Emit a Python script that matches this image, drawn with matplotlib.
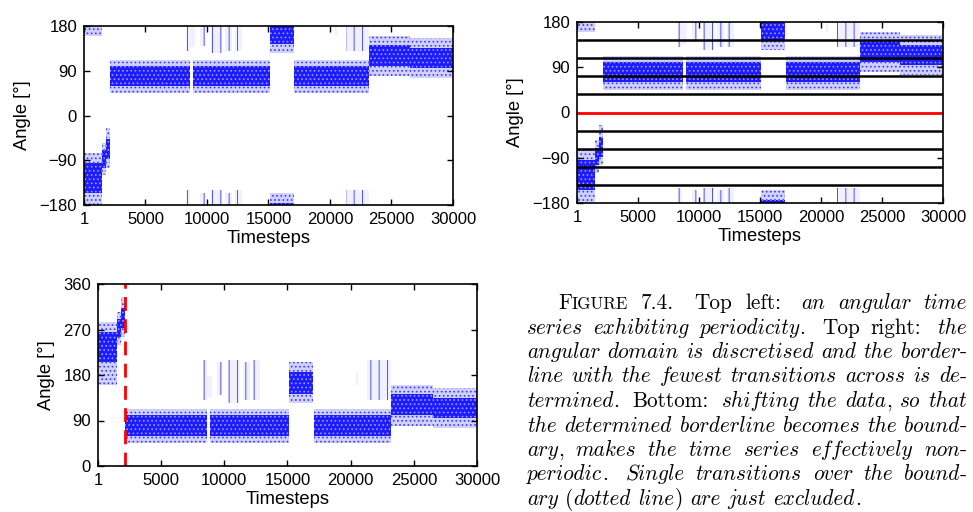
import matplotlib.pyplot as plt

# Donnees, dans le domaine decale [0, 360) (panneau du bas)
# bandes denses : debut, fin, coeur bas/haut, frange basse/haute
seg_t0 = [1, 1500, 1800, 2100, 8900, 15100, 17100, 23200, 26500]
seg_t1 = [1500, 1800, 2100, 8650, 15100, 17050, 23200, 26500, 30000]
core_lo = [205, 255, 272, 60, 60, 143, 60, 100, 95]
core_hi = [265, 290, 312, 100, 100, 185, 100, 142, 135]
fringe_lo = [160, 240, 255, 45, 45, 125, 45, 80, 75]
fringe_hi = [285, 305, 335, 112, 112, 205, 112, 160, 155]

# trainees verticales (transitions isolees)
spike_t0 = [8300, 8620, 9400, 10300, 11450, 12300, 20400, 21300]
spike_t1 = [8600, 9000, 9800, 11250, 12050, 12850, 20550, 23200]
spike_lo = [130, 137, 140, 125, 130, 130, 160, 130]
spike_hi = [210, 178, 205, 210, 205, 210, 185, 210]

border_lines = [-144, -108, -72, -36, 36, 72, 108, 144]
border_best = 0
shift_at = 2100

xticks = [1, 5000, 10000, 15000, 20000, 25000, 30000]
yticks_top = [-180, -90, 0, 90, 180]
yticks_bot = [0, 90, 180, 270, 360]

# legende : (style, texte) par ligne
caption = [
    [("sc", "FIGURE"), ("rm", "7.4. Top left:"), ("it", "an angular time")],
    [("it", "series exhibiting periodicity."), ("rm", "Top right:"), ("it", "the")],
    [("it", "angular domain is discretised and the border-")],
    [("it", "line with the fewest transitions across is de-")],
    [("it", "termined."), ("rm", "Bottom:"), ("it", "shifting the data, so that")],
    [("it", "the determined borderline becomes the bound-")],
    [("it", "ary, makes the time series effectively non-")],
    [("it", "periodic. Single transitions over the bound-")],
    [("it", "ary (dotted line) are just excluded.")],
]

plt.rcParams['font.family'] = ['Liberation Sans', 'DejaVu Sans']
plt.rcParams['hatch.linewidth'] = 0.7

W, H = 973, 512
fig = plt.figure(figsize=(W / 100, H / 100), dpi=100)


def ax_at(x0, y0, x1, y1):
    return fig.add_axes([x0 / W, 1 - y1 / H, (x1 - x0) / W, (y1 - y0) / H])


def wrap(t0, t1, lo, hi):
    # retour dans [-180, 180) : ce qui est au-dessus de 180 etait negatif
    out = []
    for a, b, l, h in zip(t0, t1, lo, hi):
        if h <= 180:
            out.append((a, b, l, h))
        elif l >= 180:
            out.append((a, b, l - 360, h - 360))
        else:
            out.append((a, b, l, 180))
            out.append((a, b, -180, h - 360))
    return out


def draw_data(ax, wrapped):
    if wrapped:
        fr = wrap(seg_t0, seg_t1, fringe_lo, fringe_hi)
        co = wrap(seg_t0, seg_t1, core_lo, core_hi)
        sp = wrap(spike_t0, spike_t1, spike_lo, spike_hi)
    else:
        fr = list(zip(seg_t0, seg_t1, fringe_lo, fringe_hi))
        co = list(zip(seg_t0, seg_t1, core_lo, core_hi))
        sp = list(zip(spike_t0, spike_t1, spike_lo, spike_hi))
    for a, b, l, h in sp:
        ax.bar(a, h - l, width=b - a, bottom=l, align='edge', facecolor='#f0f0ff',
               edgecolor='#5050ff', hatch='||', linewidth=0)
    for a, b, l, h in fr:
        ax.bar(a, h - l, width=b - a, bottom=l, align='edge', facecolor='#d0d0ff',
               edgecolor='#3a3aff', hatch='....', linewidth=0)
    for a, b, l, h in co:
        ax.bar(a, h - l, width=b - a, bottom=l, align='edge', facecolor='#1c1cff',
               edgecolor='#9a9aff', hatch='....', linewidth=0)


def style(ax, yticks):
    ax.set_xlim(1, 30000)
    ax.set_ylim(yticks[0], yticks[-1])
    ax.set_xticks(xticks)
    ax.set_yticks(yticks)
    ax.set_yticklabels([str(v).replace('-', '\u2212') for v in yticks])
    ax.tick_params(direction='in', top=True, right=True, length=4, width=1,
                   labelsize=12, pad=5)
    for s in ax.spines.values():
        s.set_linewidth(1.2)
    ax.set_xlabel("Timesteps", fontsize=13.2, labelpad=2.5)
    ax.set_ylabel("Angle [°]", fontsize=13.2, labelpad=6)


ax1 = ax_at(84, 26, 453, 205)
draw_data(ax1, True)
style(ax1, yticks_top)

ax2 = ax_at(577, 22, 943, 203)
draw_data(ax2, True)
for v in border_lines:
    ax2.axhline(v, color='black', lw=1.8)
ax2.axhline(border_best, color='red', lw=2)
style(ax2, yticks_top)

ax3 = ax_at(98, 284, 477, 466)
draw_data(ax3, False)
ax3.axvline(shift_at, color='red', lw=2, linestyle=(0, (5, 3)))
style(ax3, yticks_bot)

# === Legende (justifiee a la main, police Computer Modern de matplotlib) ===
renderer = fig.canvas.get_renderer()
em = 15.3
x_left, x_right, indent = 527, 967, 31
base0, step = 309, 24.5


def runs_of(word, st):
    if st == "sc":
        return [(word[0], 'cmr10', em), (word[1:], 'cmr10', em * 0.8)]
    if st == "rm":
        return [(word, 'cmr10', em)]
    runs = []
    for ch in word:
        fam = 'cmmi10' if ch.isalpha() else 'cmr10'
        if runs and runs[-1][1] == fam:
            runs[-1] = (runs[-1][0] + ch, fam, em)
        else:
            runs.append((ch, fam, em))
    return runs


def measure(txt, fam, size):
    t = fig.text(0, 0, txt, family=fam, fontsize=size)
    w = t.get_window_extent(renderer=renderer).width
    t.remove()
    return w


for i, line in enumerate(caption):
    words = []
    for st, txt in line:
        for w in txt.split(' '):
            words.append(runs_of(w, st))
    widths = [sum(measure(*r) for r in wd) for wd in words]
    x0 = x_left + (indent if i == 0 else 0)
    last = i == len(caption) - 1
    weights = []
    for wd in words[:-1]:
        end = wd[-1][0][-1]
        weights.append(1.6 if end in '.:' else 1.0)
    if last:
        gap_unit = em * 0.34 * 100 / 72
    else:
        gap_unit = (x_right - x0 - sum(widths)) / sum(weights)
    x = x0
    y = base0 + i * step
    for k, wd in enumerate(words):
        xx = x
        for txt, fam, size in wd:
            fig.text(xx / W, 1 - y / H, txt, family=fam, fontsize=size, va='baseline')
            xx += measure(txt, fam, size)
        x += widths[k]
        if k < len(weights):
            x += gap_unit * weights[k]

fig.savefig("out.png", dpi=100)
